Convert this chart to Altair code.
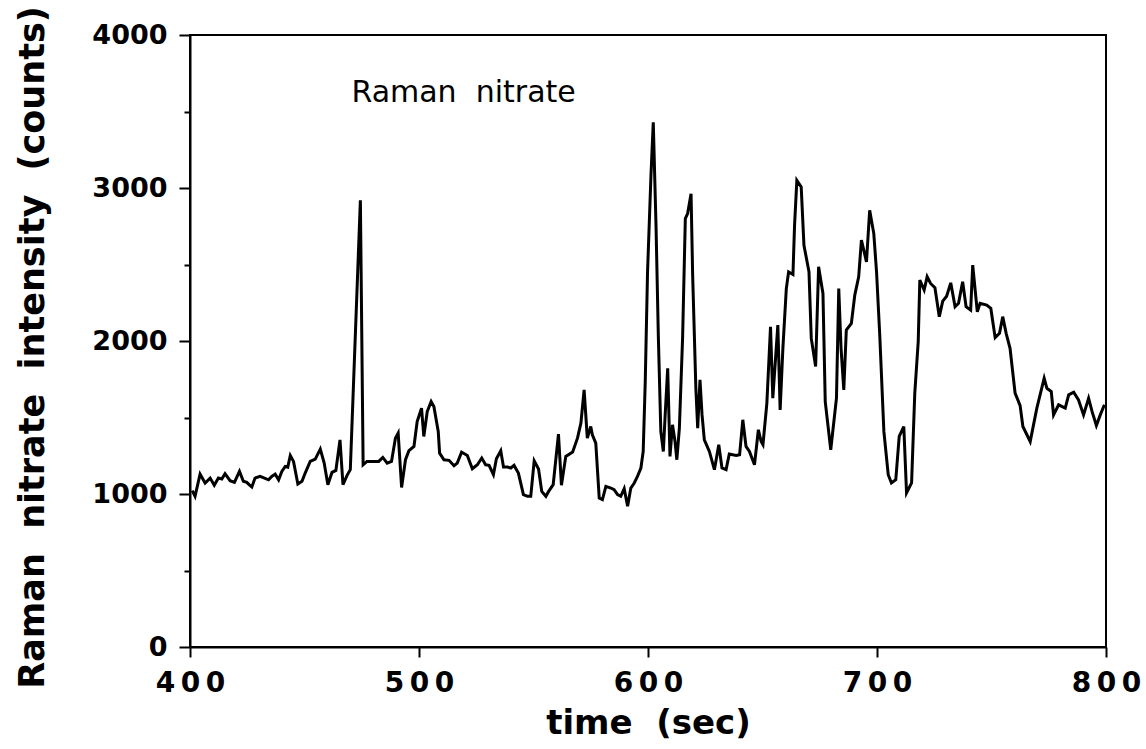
import altair as alt
import pandas as pd

time_s = [
    401.0, 402.2, 404.4, 406.6, 408.8, 410.6, 412.4, 413.9, 415.3, 417.5,
    419.4, 421.6, 423.3, 424.8, 425.8, 427.0, 428.4, 430.6, 432.5, 434.3,
    435.7, 437.2, 438.7, 440.1, 441.6, 442.7, 443.8, 445.2, 447.1, 448.9,
    450.3, 452.5, 454.7, 456.9, 458.6, 460.2, 462.0, 463.7, 465.5, 466.8,
    468.6, 470.0, 474.4, 475.6, 477.3, 482.4, 484.2, 486.1, 488.0, 489.7,
    490.9, 492.4, 494.1, 495.6, 497.8, 499.2, 501.1, 502.1, 503.6, 505.3,
    506.5, 508.4, 509.0, 510.9, 513.1, 515.3, 516.7, 518.6, 521.1, 523.3,
    525.5, 527.4, 529.1, 530.6, 532.5, 533.8, 535.7, 536.9, 538.6, 540.1,
    541.5, 543.4, 545.6, 547.4, 548.8, 550.3, 552.2, 553.6, 555.4, 556.6,
    558.6, 560.9, 562.2, 564.1, 567.1, 569.2, 570.7, 572.1, 573.5, 575.0,
    575.7, 577.2, 578.7, 580.1, 581.6, 583.8, 585.2, 586.7, 588.1, 589.6,
    591.1, 592.5, 594.0, 595.4, 596.9, 597.9, 598.8, 599.8, 601.3, 602.3,
    603.5, 604.5, 605.6, 606.7, 607.5, 608.6, 609.6, 610.7, 611.8, 612.6,
    613.7, 615.1, 616.3, 617.3, 618.8, 619.5, 620.9, 621.7, 622.7, 623.6,
    624.6, 626.8, 629.0, 630.9, 632.3, 634.1, 635.5, 638.5, 640.0, 641.4,
    642.8, 644.3, 646.5, 648.2, 649.4, 650.2, 651.9, 653.5, 654.5, 655.6,
    656.7, 657.7, 658.9, 660.4, 661.4, 663.3, 664.0, 665.0, 666.9, 668.1,
    670.3, 671.3, 673.2, 674.5, 676.4, 677.4, 679.8, 682.3, 683.3, 684.3,
    685.5, 686.6, 688.8, 690.3, 692.0, 693.2, 694.4, 695.4, 696.8, 698.6,
    699.8, 701.2, 703.0, 704.9, 706.3, 708.2, 709.7, 711.7, 712.9, 715.1,
    716.5, 718.0, 718.7, 720.6, 721.9, 723.4, 725.3, 727.2, 728.7, 730.4,
    732.2, 734.1, 735.6, 737.4, 738.9, 740.9, 741.8, 743.8, 745.0, 747.9,
    749.7, 751.6, 753.5, 754.9, 756.4, 758.1, 760.3, 762.5, 763.7, 766.9,
    769.8, 773.0, 774.2, 776.1, 777.1, 779.3, 782.2, 783.7, 785.9, 788.0,
    790.2, 792.4, 793.9, 795.8, 797.5, 799.3,
]

intensity = [
    1022, 985, 1130, 1072, 1104, 1057, 1104, 1098, 1133, 1087,
    1076, 1148, 1083, 1076, 1061, 1046, 1104, 1115, 1104, 1093,
    1115, 1130, 1093, 1148, 1180, 1176, 1252, 1213, 1065, 1083,
    1137, 1213, 1228, 1293, 1202, 1061, 1141, 1154, 1354, 1061,
    1122, 1159, 2920, 1191, 1213, 1213, 1239, 1202, 1213, 1365,
    1398, 1043, 1224, 1283, 1311, 1474, 1561, 1376, 1539, 1604,
    1572, 1409, 1267, 1224, 1220, 1185, 1202, 1274, 1252, 1165,
    1191, 1235, 1191, 1187, 1126, 1230, 1283, 1176, 1176, 1170,
    1187, 1137, 996, 985, 985, 1217, 1163, 1017, 985, 1017,
    1061, 1391, 1057, 1246, 1274, 1365, 1463, 1680, 1365, 1441,
    1387, 1333, 974, 963, 1050, 1039, 1028, 996, 985, 1035,
    920, 1039, 1072, 1115, 1170, 1278, 1735, 2452, 3083, 3430,
    2757, 2039, 1409, 1278, 1517, 1822, 1246, 1452, 1343, 1224,
    1430, 2017, 2800, 2833, 2963, 2430, 1691, 1430, 1746, 1517,
    1354, 1278, 1159, 1322, 1170, 1159, 1261, 1252, 1257, 1485,
    1311, 1278, 1191, 1420, 1343, 1322, 1593, 2093, 1626, 1865,
    2104, 1550, 1952, 2343, 2452, 2435, 2757, 3050, 3007, 2626,
    2452, 2017, 1833, 2485, 2311, 1604, 1289, 1626, 2343, 1952,
    1680, 2072, 2115, 2300, 2420, 2659, 2583, 2517, 2854, 2702,
    2452, 2039, 1409, 1126, 1072, 1093, 1376, 1441, 1007, 1072,
    1659, 1996, 2398, 2333, 2420, 2376, 2348, 2159, 2261, 2293,
    2380, 2224, 2246, 2387, 2224, 2202, 2496, 2191, 2246, 2235,
    2213, 2022, 2050, 2159, 2050, 1952, 1659, 1578, 1441, 1343,
    1561, 1757, 1691, 1670, 1517, 1583, 1561, 1648, 1665, 1615,
    1517, 1626, 1540, 1448, 1517, 1583,
]

x_ticks = [400, 500, 600, 700, 800]
y_ticks = [0, 500, 1000, 1500, 2000, 2500, 3000, 3500, 4000]

NB = "\u00a0"
annot_text = ["Raman" + NB * 2 + "nitrate"]
annot_time = [470.5]
annot_value = [3565]

df = pd.DataFrame({"time": time_s, "intensity": intensity})
ann = pd.DataFrame({"label": annot_text, "time": annot_time, "intensity": annot_value})

x_enc = alt.X(
    "time:Q",
    scale=alt.Scale(domain=[400, 800], nice=False, zero=False),
    axis=alt.Axis(
        values=x_ticks,
        title="time" + NB * 2 + "(sec)",
        titleFont="DejaVu Sans",
        titleFontSize=34,
        titleFontWeight="bold",
        titleColor="black",
        titleBaseline="alphabetic",
        titleY=86,
        labelFont="DejaVu Sans",
        labelFontSize=28,
        labelFontWeight="bold",
        labelColor="black",
        labelExpr="slice(datum.label,0,1) + '\u2009' + slice(datum.label,1,2) + '\u2009' + slice(datum.label,2,3)",
        labelPadding=12,
        labelFlush=False,
        labelOverlap=False,
        tickSize=10,
        tickWidth=2,
        tickColor="black",
        domainColor="black",
        domainWidth=2,
        grid=False,
    ),
)

y_enc = alt.Y(
    "intensity:Q",
    scale=alt.Scale(domain=[0, 4000], nice=False),
    axis=alt.Axis(
        values=y_ticks,
        title="Raman" + NB * 2 + "nitrate" + NB * 2 + "intensity" + NB * 2 + "(counts)",
        titleFont="DejaVu Sans",
        titleFontSize=35,
        titleFontWeight="bold",
        titleColor="black",
        titleAngle=-90,
        titleBaseline="bottom",
        titleX=-140,
        titleY=312,
        labelFont="DejaVu Sans",
        labelFontSize=27,
        labelFontWeight="bold",
        labelColor="black",
        labelExpr="datum.value % 1000 == 0 ? datum.label : ''",
        labelPadding=12,
        labelFlush=False,
        labelOverlap=False,
        tickSize={"condition": {"test": "datum.value % 1000 == 0", "value": 11}, "value": 6},
        tickWidth=2,
        tickColor="black",
        domainColor="black",
        domainWidth=2,
        grid=False,
        format="d",
    ),
)

line = alt.Chart(df).mark_line(color="black", strokeWidth=3, strokeJoin="miter").encode(
    x=x_enc, y=y_enc
)

text = alt.Chart(ann).mark_text(
    align="left", baseline="alphabetic", font="DejaVu Sans", fontSize=30, color="black"
).encode(
    x=alt.X("time:Q"),
    y=alt.Y("intensity:Q"),
    text="label:N",
)

chart = (
    alt.layer(line, text)
    .properties(
        width=916,
        height=612,
        autosize=alt.AutoSizeParams(type="none"),
        padding={"left": 190, "top": 35, "right": 40, "bottom": 102},
        background="white",
    )
    .configure_view(stroke="black", strokeWidth=2)
)

chart.save("out.html", embed_options={"renderer": "svg", "actions": False})
